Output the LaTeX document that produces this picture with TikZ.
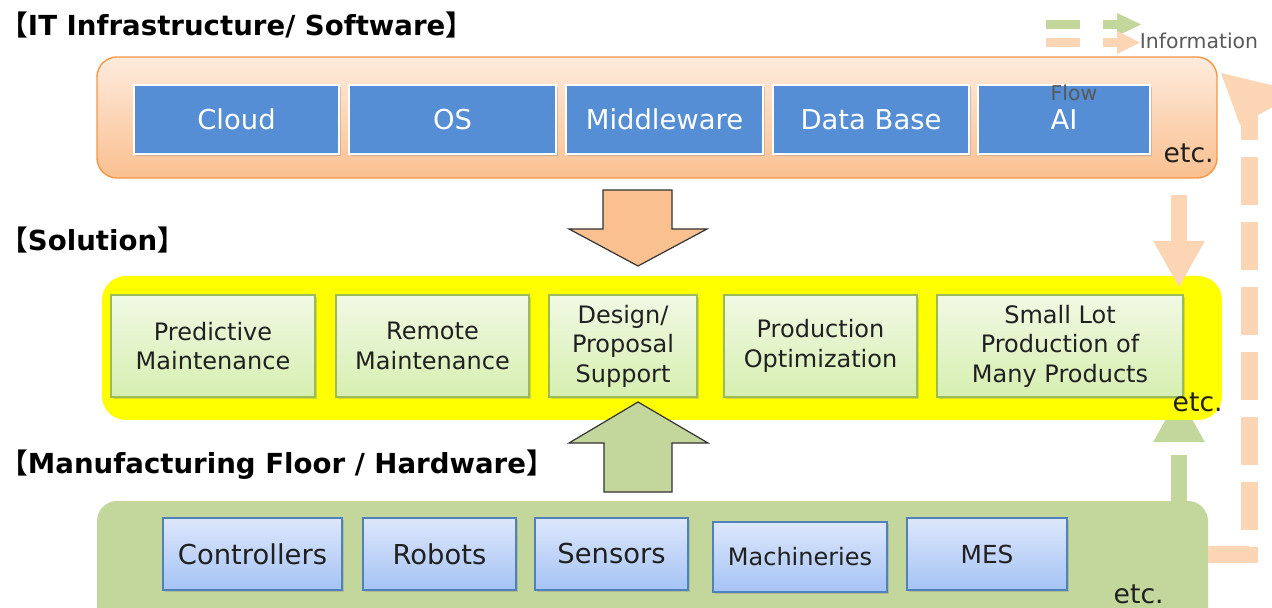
\documentclass[tikz,border=0pt]{standalone}
\usepackage{fontspec}
\setmainfont{DejaVu Sans}
\newfontfamily\cjkfont{Noto Sans CJK JP}
\usetikzlibrary{shadows,arrows.meta}

\definecolor{itTop}{HTML}{FEEBDD}
\definecolor{itBot}{HTML}{FAC090}
\definecolor{itBorder}{HTML}{F79646}
\definecolor{swBlue}{HTML}{558ED5}
\definecolor{peach}{HTML}{FAC090}
\definecolor{peachLight}{HTML}{FCD5B5}
\definecolor{solYellow}{HTML}{FFFF00}
\definecolor{solTop}{HTML}{F1F9E4}
\definecolor{solBot}{HTML}{D6EFB0}
\definecolor{solBorder}{HTML}{9BBB59}
\definecolor{hwGreen}{HTML}{C3D69B}
\definecolor{hwTop}{HTML}{DDE7FB}
\definecolor{hwBot}{HTML}{A5C3F5}
\definecolor{hwBorder}{HTML}{4F81BD}
\definecolor{ink}{HTML}{202020}
\definecolor{legendGray}{HTML}{595959}

\tikzset{
  % a rectangle given by its corners (x1,y1) (x2,y2) in picture units
  span/.style n args={4}{rectangle, inner sep=0pt,
    minimum width={(#3-#1)*0.5pt}, minimum height={(#4-#2)*0.5pt},
    at={({(#1+#3)/2},{(#2+#4)/2})}},
  swbox/.style={draw=white, line width=1.2pt, fill=swBlue,
    drop shadow={opacity=0.35, shadow xshift=1pt, shadow yshift=-1pt},
    text=white, font=\fontsize{13.7}{16}\selectfont},
  solbox/.style={draw=solBorder, line width=0.8pt, top color=solTop, bottom color=solBot,
    align=center, text=ink,
    drop shadow={opacity=0.3, shadow xshift=1pt, shadow yshift=-1pt},
    font=\fontsize{12}{14.8}\selectfont},
  hwbox/.style={draw=hwBorder, line width=0.8pt, top color=hwTop, bottom color=hwBot,
    text=ink,
    drop shadow={opacity=0.3, shadow xshift=1pt, shadow yshift=-1pt},
    font=\fontsize{13.7}{16}\selectfont},
  layertitle/.style={anchor=west, inner sep=0pt, text=black,
    font=\bfseries\fontsize{13.8}{16}\selectfont},
  etc/.style={inner sep=0pt, text=ink, font=\fontsize{13.3}{16}\selectfont},
  blockarrow/.style={draw=black!80, line width=0.6pt},
  legendtext/.style={inner sep=0pt, text=legendGray, font=\fontsize{10.2}{12}\selectfont},
}

\begin{document}
\begin{tikzpicture}[x=0.5pt, y=-0.5pt]
\useasboundingbox (0,0) rectangle (1272,608);

% ---------- IT infrastructure / software layer ----------
\node[layertitle] (t1) at (0,25) {{\cjkfont 【}IT Infrastructure/ Software{\cjkfont 】}};
\node[span={97}{57}{1217}{178}, rounded corners=10pt, draw=itBorder,
  line width=0.7pt, top color=itTop, bottom color=itBot] (itlayer) {};
\node[swbox, span={134}{85}{339}{154}] (cloud) {Cloud};
\node[swbox, span={349}{85}{556}{154}] (os) {OS};
\node[swbox, span={566}{85}{763}{154}] (mw) {Middleware};
\node[swbox, span={773}{85}{969}{154}] (db) {Data Base};
\node[swbox, span={978}{85}{1150}{154}] (ai) {AI};
\node[etc, anchor=base east] (etc1) at (1214,163) {etc.};

% downward block arrow into the solution layer
\draw[blockarrow, fill=peach] (603,190) -- (672,190) -- (672,229) -- (707,229)
  -- (638,266) -- (569,229) -- (603,229) -- cycle;

% ---------- solution layer ----------
\node[layertitle] (t2) at (0,240) {{\cjkfont 【}Solution{\cjkfont 】}};

% hardware to solution flow (drawn below the yellow panel)
\coordinate (gup1) at (1179,502);
\coordinate (gup2) at (1179,395);
\draw[hwGreen, line width=8pt, dash pattern=on 23.5pt off 6.5pt,
  -{Triangle[length=23.5pt, width=24pt]}] (gup1) -- (gup2);

\node[span={102}{276}{1222}{420}, rounded corners=12pt, fill=solYellow] (sollayer) {};

% software to solution flow
\coordinate (odn1) at (1179,195);
\coordinate (odn2) at (1179,288);
\draw[peachLight, line width=8pt, -{Triangle[length=23.5pt, width=24pt]}] (odn1) -- (odn2);

\node[solbox, span={111}{295}{315}{397}] (pm) {Predictive\\Maintenance};
\node[solbox, span={336}{295}{529}{397}] (rm) {Remote\\Maintenance};
\node[solbox, span={549}{295}{697}{397}] (dp) {Design/\\Proposal\\Support};
\node[solbox, span={724}{295}{917}{397}] (po) {Production\\Optimization};
\node[solbox, span={937}{295}{1183}{397}] (sl) {Small Lot\\Production of\\Many Products};
\node[etc, anchor=base east] (etc2) at (1223,412) {etc.};

% upward block arrow from the hardware layer
\draw[blockarrow, fill=hwGreen] (604,492) -- (672,492) -- (672,443) -- (708,443)
  -- (638,402) -- (569,443) -- (604,443) -- cycle;

% ---------- manufacturing floor / hardware layer ----------
\node[layertitle] (t3) at (0,465) {{\cjkfont 【}Manufacturing Floor / Hardware{\cjkfont 】}};
\node[span={97}{501}{1208}{640}, rounded corners=10pt, fill=hwGreen] (hwlayer) {};
\node[hwbox, span={163}{518}{342}{590}] (ctrl) {Controllers};
\node[hwbox, span={363}{518}{516}{590}] (rob) {Robots};
\node[hwbox, span={535}{518}{688}{590}] (sen) {Sensors};
\node[hwbox, span={713}{522}{887}{592}, font=\fontsize{12}{14}\selectfont] (mach) {Machineries};
\node[hwbox, span={907}{518}{1067}{590}, font=\fontsize{12.4}{14}\selectfont] (mes) {MES};
\node[etc, anchor=base east] (etc3) at (1164,603) {etc.};

% ---------- information flow back up to the software layer ----------
\coordinate (fstart) at (hwlayer.east |- 0,554);
\coordinate (fcorner) at (1249,554);
\coordinate (fend) at (1249,112);
\draw[peachLight, line width=8.5pt, dash pattern=on 24pt off 8.5pt, line join=miter]
  (fstart) -- (fcorner) -- (fend);
\fill[peachLight] (1221,73) -- (1300,92) -- (1240,125) -- cycle;

% ---------- legend ----------
\fill[hwGreen] (1046,20) rectangle (1080,29);
\fill[hwGreen] (1103,20) rectangle (1118,29);
\fill[hwGreen] (1117,13) -- (1141,24.5) -- (1117,36) -- cycle;
\fill[peachLight] (1046,38) rectangle (1080,47);
\fill[peachLight] (1103,38) rectangle (1118,47);
\fill[peachLight] (1117,31) -- (1140,42.5) -- (1117,54) -- cycle;
\node[legendtext] (lg1) at (1199,41) {Information};
\node[legendtext] (lg2) at (1074,93) {Flow};
\end{tikzpicture}
\end{document}
